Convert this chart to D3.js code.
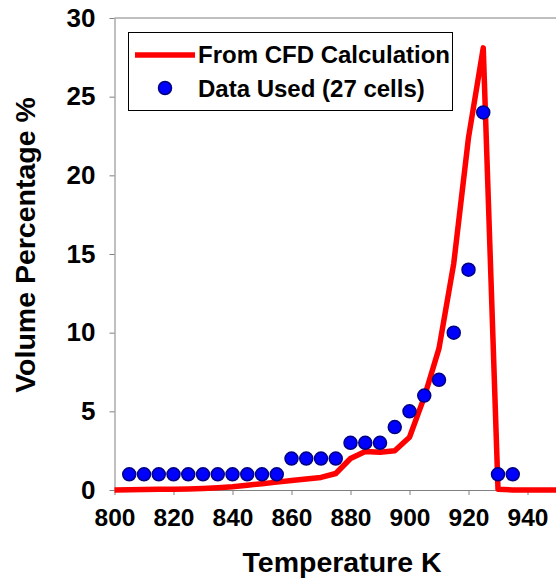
<!DOCTYPE html>
<html><head><meta charset="utf-8">
<script src="https://cdn.jsdelivr.net/npm/d3@7"></script>
<style>
html,body{margin:0;padding:0;background:#fff;}
svg{display:block;font-family:"Liberation Sans",Arial,sans-serif;font-weight:bold;}
</style></head>
<body>
<svg id="chart" width="556" height="585"></svg>
<script>
// CFD calculation curve (temperature K, volume %)
const cfdTemps = [800,805,810,815,820,825,830,835,840,845,850,855,860,865,870,875,880,885,890,895,900,905,910,915,920,925,930,935,940,945,950];
const cfdValues = [0,0.02,0.03,0.04,0.05,0.07,0.1,0.15,0.2,0.3,0.4,0.5,0.6,0.7,0.8,1.05,2.0,2.45,2.4,2.5,3.35,5.9,9.0,14.4,22.4,28.1,0.05,0,0,0,0];
// Data used (27 cells)
const usedTemps = [805,810,815,820,825,830,835,840,845,850,855,860,865,870,875,880,885,890,895,900,905,910,915,920,925,930,935];
const usedValues = [1,1,1,1,1,1,1,1,1,1,1,2,2,2,2,3,3,3,4,5,6,7,10,14,24,1,1];
const xTicks = [800,820,840,860,880,900,920,940];
const yTicks = [0,5,10,15,20,25,30];
const legendLabels = ["From CFD Calculation","Data Used (27 cells)"];

const svg = d3.select("#chart");
const x = d3.scaleLinear().domain([800,950]).range([114.5,557]);
const y = d3.scaleLinear().domain([0,30]).range([490,18]);

// top frame line
svg.append("line").attr("x1",114.5).attr("x2",556).attr("y1",18).attr("y2",18)
  .attr("stroke","#808080").attr("stroke-width",1);

const xAxis = svg.append("g").attr("transform","translate(0,490)")
  .call(d3.axisBottom(x).tickValues(xTicks).tickSize(5).tickSizeOuter(0).tickPadding(14));
xAxis.select(".domain").attr("stroke","#808080");
xAxis.selectAll(".tick line").attr("stroke","#808080");
xAxis.selectAll("text").attr("font-size",24.5).attr("font-weight","bold").attr("fill","#000")
  .attr("font-family","Liberation Sans, Arial, sans-serif");

const yAxis = svg.append("g").attr("transform","translate(114.5,0)")
  .call(d3.axisLeft(y).tickValues(yTicks).tickSize(5).tickSizeOuter(0).tickPadding(14));
yAxis.select(".domain").attr("stroke","#808080");
yAxis.selectAll(".tick line").attr("stroke","#808080");
yAxis.selectAll("text").attr("font-size",26).attr("font-weight","bold").attr("fill","#000")
  .attr("font-family","Liberation Sans, Arial, sans-serif");

// titles
svg.append("text").attr("x",342).attr("y",572).attr("text-anchor","middle")
  .attr("font-size",28.5).text("Temperature K");
svg.append("text").attr("transform","translate(35,245) rotate(-90)").attr("text-anchor","middle")
  .attr("font-size",28.5).text("Volume Percentage %");

// CFD line
const line = d3.line().x((d,i)=>x(cfdTemps[i])).y(d=>y(d));
svg.append("path").datum(cfdValues).attr("d",line).attr("fill","none")
  .attr("stroke","#ff0000").attr("stroke-width",5.5).attr("stroke-linejoin","round");

// points
svg.append("g").selectAll("circle").data(usedValues).join("circle")
  .attr("cx",(d,i)=>x(usedTemps[i])).attr("cy",d=>y(d)).attr("r",6.5)
  .attr("fill","#0000ff").attr("stroke","#000080").attr("stroke-width",1.5);

// legend
const lg = svg.append("g");
lg.append("rect").attr("x",128.5).attr("y",32.5).attr("width",324).attr("height",78)
  .attr("fill","#fff").attr("stroke","#000").attr("stroke-width",1);
lg.append("line").attr("x1",135).attr("x2",195).attr("y1",55).attr("y2",55)
  .attr("stroke","#ff0000").attr("stroke-width",5.5);
lg.append("circle").attr("cx",165).attr("cy",88).attr("r",6.5)
  .attr("fill","#0000ff").attr("stroke","#000080").attr("stroke-width",1.5);
lg.selectAll("text.lt").data(legendLabels).join("text").attr("class","lt")
  .attr("x",198).attr("y",(d,i)=>63+i*34).attr("font-size",24).text(d=>d);
</script>
</body></html>
